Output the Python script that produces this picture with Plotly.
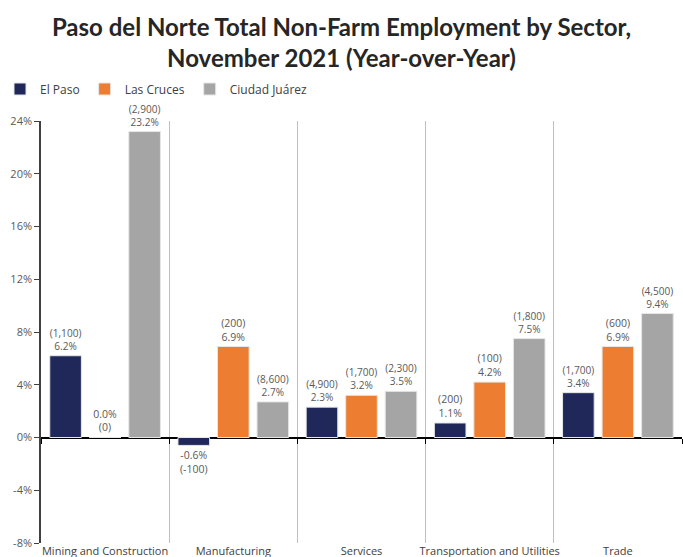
import plotly.graph_objects as go

sectors = ["Mining and Construction", "Manufacturing", "Services",
           "Transportation and Utilities", "Trade"]
series = ["El Paso", "Las Cruces", "Ciudad Juárez"]
pct = {
    "El Paso": [6.2, -0.6, 2.3, 1.1, 3.4],
    "Las Cruces": [0.0, 6.9, 3.2, 4.2, 6.9],
    "Ciudad Juárez": [23.2, 2.7, 3.5, 7.5, 9.4],
}
jobs = {
    "El Paso": ["1,100", "-100", "4,900", "200", "1,700"],
    "Las Cruces": ["0", "200", "1,700", "100", "600"],
    "Ciudad Juárez": ["2,900", "8,600", "2,300", "1,800", "4,500"],
}
colors = {"El Paso": "#1f2859", "Las Cruces": "#ed7d31", "Ciudad Juárez": "#a5a5a5"}
ytick_vals = [-8, -4, 0, 4, 8, 12, 16, 20, 24]
ytick_text = [f"{v}%" for v in ytick_vals]


def label(p, j):
    if p > 0:
        return f"({j})<br>{p:.1f}%"
    return f"{p:.1f}%<br>({j})"


fig = go.Figure()
for s in series:
    fig.add_trace(go.Bar(
        name=s, x=sectors, y=pct[s],
        marker=dict(color=colors[s], line=dict(color="#e6e6e6", width=1)),
        text=[label(p, j) for p, j in zip(pct[s], jobs[s])],
        textposition="outside",
        textfont=dict(family="Open Sans", size=10.5, color="#595959"),
        cliponaxis=False,
        hoverinfo="skip",
    ))

fig.update_layout(
    width=683, height=557,
    margin=dict(l=41, r=1, t=121, b=14, autoexpand=False),
    paper_bgcolor="white", plot_bgcolor="white",
    barmode="group", bargap=0.075, bargroupgap=0.2,
    font=dict(family="Open Sans", size=11, color="#404040"),
    title=dict(
        text="Paso del Norte Total Non-Farm Employment by Sector,<br>November 2021 (Year-over-Year)",
        x=0.5, xanchor="center", xref="container", yref="container",
        y=1 - 36 / 557, yanchor="middle",
        font=dict(family="Lato", size=24, color="#262626", weight="bold"),
    ),
    legend=dict(
        orientation="h", xref="container", yref="container",
        x=0, y=1 - 89 / 557, xanchor="left", yanchor="middle",
        font=dict(size=12, color="#404040"),
        itemwidth=30, traceorder="normal",
    ),
    showlegend=True,
)
fig.update_xaxes(
    type="category", tickson="boundaries", showgrid=True,
    gridcolor="#bfbfbf", gridwidth=1, ticks="", showline=False,
    tickangle=0, automargin=False,
    tickfont=dict(size=11, color="#404040"),
)
fig.update_yaxes(
    range=[-8, 24], tickvals=ytick_vals, ticktext=ytick_text,
    showgrid=False, zeroline=True, zerolinecolor="#000000", zerolinewidth=1.5,
    showline=True, linecolor="#404040", linewidth=1.5, automargin=False,
    ticks="outside", ticklen=5, tickcolor="#404040",
    tickfont=dict(size=11, color="#595959"),
)
# small tick marks at category boundaries along the zero line
fig.update_layout(xaxis2=dict(
    type="category", overlaying="x", matches="x", anchor="free",
    position=(0 - (-8)) / (24 - (-8)), side="bottom",
    tickson="boundaries", ticks="outside", ticklen=5, tickcolor="#000000",
    showticklabels=False, showgrid=False, showline=False, automargin=False,
))
fig.add_trace(go.Bar(x=sectors, y=[None] * len(sectors), xaxis="x2",
                     showlegend=False, hoverinfo="skip"))
fig.write_html("out.html")
